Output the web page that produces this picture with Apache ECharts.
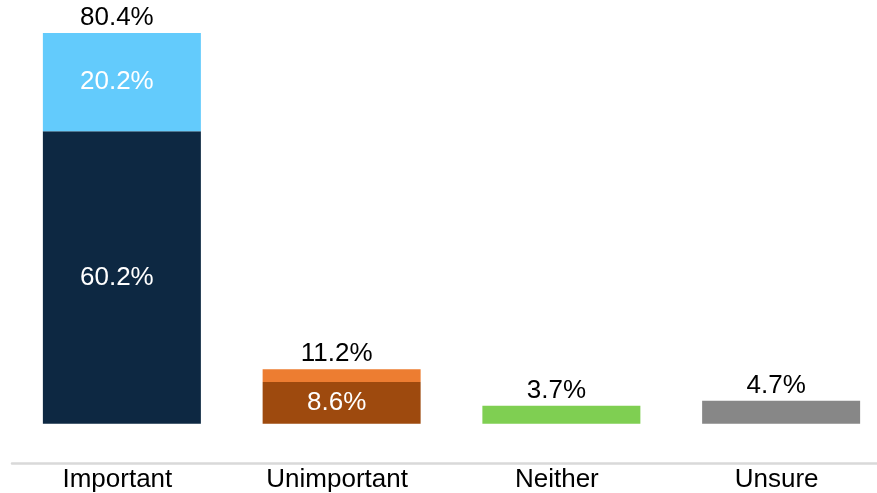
<!DOCTYPE html>
<html>
<head>
<meta charset="utf-8">
<script src="https://cdn.jsdelivr.net/npm/echarts@6/dist/echarts.min.js"></script>
<style>html,body{margin:0;padding:0;background:#fff}#c{width:877px;height:493px}</style>
</head>
<body>
<div id="c"></div>
<script>
const categories = ['Important', 'Unimportant', 'Neither', 'Unsure'];
const baseValues = [60.2, 8.6, 3.7, 4.7];
const topValues = [20.2, 2.6, 0, 0];
const totals = [80.4, 11.2, 3.7, 4.7];
const baseColors = ['#0d2842', '#9e4a0e', '#7fcf52', '#878787'];
const topColors = ['#63cbfc', '#ed7d31', '#7fcf52', '#878787'];
const baseLabelShown = [true, true, false, false];
const topLabelShown = [true, false, false, false];

const FONT = '"Liberation Sans", Arial, sans-serif';
const FS = 26;
const SHIFT = [-5, 0];
const chart = echarts.init(document.getElementById('c'));
chart.setOption({
  animation: false,
  grid: { left: 12, top: 0, width: 879, height: 423.7, outerBoundsMode: 'none', containLabel: false },
  xAxis: {
    type: 'category', data: categories, offset: 40,
    axisLine: { onZero: false, lineStyle: { color: '#d9d9d9', width: 2.5 } },
    axisTick: { show: false },
    axisLabel: { color: '#000', fontSize: FS, fontFamily: FONT, margin: 3, padding: [0, 9, 0, 0] }
  },
  yAxis: { type: 'value', min: 0, max: 87.2, show: false, splitLine: { show: false } },
  series: [
    {
      type: 'bar', stack: 's', barWidth: 158,
      data: baseValues.map((v, i) => ({
        value: v, itemStyle: { color: baseColors[i] },
        label: { show: baseLabelShown[i], position: 'inside', offset: SHIFT, color: '#fff', fontSize: FS, fontFamily: FONT, formatter: v.toFixed(1) + '%' }
      }))
    },
    {
      type: 'bar', stack: 's', barWidth: 158,
      data: topValues.map((v, i) => ({
        value: v, itemStyle: { color: topColors[i] },
        label: { show: topLabelShown[i], position: 'inside', offset: SHIFT, color: '#fff', fontSize: FS, fontFamily: FONT, formatter: v.toFixed(1) + '%' }
      }))
    },
    {
      type: 'bar', stack: 's', barWidth: 158,
      data: totals.map((t) => ({
        value: 0, itemStyle: { color: 'transparent' },
        label: { show: true, position: 'top', distance: 2, offset: SHIFT, color: '#000', fontSize: FS, fontFamily: FONT, formatter: t.toFixed(1) + '%' }
      }))
    }
  ]
});
</script>
</body>
</html>
